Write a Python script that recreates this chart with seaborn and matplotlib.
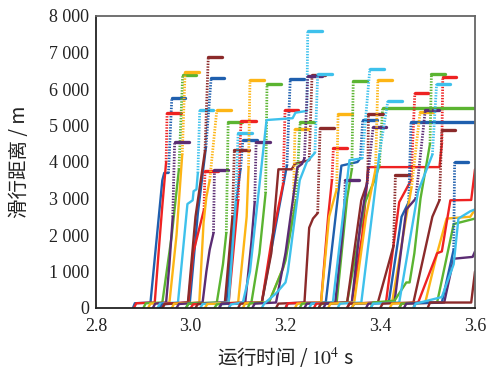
import matplotlib
matplotlib.use("Agg")
import matplotlib.pyplot as plt
import seaborn as sns
import numpy as np

sns.set_theme(style="white")
plt.rcParams['font.family'] = ['Liberation Serif', 'Noto Sans CJK SC', 'DejaVu Sans']
plt.rcParams['mathtext.fontset'] = 'stix'

# ---- data: each trajectory = times (1e4 s) and taxi distances (m) ----
# last point of each series = top of dotted jump; CAP = end time of the top hold (None = runs off chart)
BLUE_T = [[2.878, 2.882, 2.915, 2.940, 2.944, 2.953, 2.960],
          [2.935, 2.940, 2.998, 3.015, 3.032, 3.043],
          [2.990, 2.995, 3.075, 3.092, 3.105, 3.110],
          [3.060, 3.065, 3.150, 3.180, 3.203, 3.210],
          [3.200, 3.205, 3.285, 3.318, 3.352, 3.358, 3.363],
          [3.340, 3.345, 3.418, 3.445, 3.460, 3.465],
          [3.470, 3.475, 3.530, 3.555, 3.557]]
BLUE_D = [[0, 130, 150, 3500, 3700, 3700, 5750],
          [0, 100, 150, 2600, 4400, 6300],
          [0, 120, 150, 2500, 3800, 4600],
          [0, 110, 150, 2300, 3900, 6270],
          [0, 130, 150, 3900, 4000, 4100, 5150],
          [0, 120, 150, 2500, 2900, 5100],
          [0, 140, 150, 1600, 4000]]
BLUE_CAP = [2.988, 3.070, 3.140, 3.238, 3.393, 3.600, 3.586]

RED_T = [[2.880, 2.885, 2.924, 2.935, 2.940, 2.948, 2.950],
         [2.940, 2.945, 2.995, 3.005, 3.028, 3.030],
         [3.000, 3.005, 3.080, 3.100, 3.106],
         [3.080, 3.085, 3.150, 3.170, 3.195, 3.199],
         [3.200, 3.205, 3.275, 3.290, 3.298, 3.301],
         [3.260, 3.265, 3.340, 3.362, 3.375, 3.525, 3.530, 3.532],
         [3.330, 3.335, 3.412, 3.440, 3.465, 3.473],
         [3.440, 3.445, 3.480, 3.520, 3.530, 3.548, 3.592, 3.600]]
RED_D = [[0, 130, 150, 2000, 2800, 4000, 5340],
         [0, 120, 150, 1500, 2700, 3750],
         [0, 100, 150, 2950, 5120],
         [0, 130, 150, 1800, 3400, 5420],
         [0, 130, 150, 2500, 3500, 4380],
         [0, 120, 150, 2000, 3860, 3860, 4500, 6330],
         [0, 120, 150, 2900, 3500, 5880],
         [0, 120, 150, 1500, 1550, 2950, 2960, 3800]]
RED_CAP = [2.980, 3.058, 3.138, 3.227, 3.330, 3.560, 3.500, None]

GREEN_T = [[2.900, 2.905, 2.940, 2.960, 2.975, 2.983],
           [2.990, 2.995, 3.055, 3.068, 3.075, 3.079],
           [3.050, 3.055, 3.128, 3.145, 3.158, 3.161],
           [3.120, 3.125, 3.165, 3.195, 3.200, 3.222, 3.231],
           [3.230, 3.235, 3.308, 3.330, 3.340, 3.343],
           [3.270, 3.275, 3.330, 3.368, 3.388, 3.398, 3.405],
           [3.380, 3.385, 3.430, 3.455, 3.462, 3.472, 3.485, 3.505, 3.508],
           [3.440, 3.445, 3.520, 3.555, 3.570, 3.600]]
GREEN_D = [[0, 130, 150, 2000, 3800, 6380],
           [0, 120, 150, 1200, 2050, 5100],
           [0, 100, 150, 1500, 3150, 6140],
           [0, 130, 150, 1100, 1300, 2950, 5090],
           [0, 120, 150, 3000, 3800, 6220],
           [0, 110, 150, 2900, 3500, 3900, 5470],
           [0, 150, 200, 700, 700, 1500, 3000, 4500, 6410],
           [0, 120, 150, 2300, 2350, 2450]]
GREEN_CAP = [3.011, 3.108, 3.190, 3.260, 3.373, 3.600, 3.536, None]

ORANGE_T = [[2.910, 2.915, 2.955, 2.970, 2.982, 2.988],
            [2.960, 2.965, 3.018, 3.027, 3.033, 3.040, 3.055],
            [3.030, 3.035, 3.100, 3.118, 3.122, 3.125],
            [3.110, 3.115, 3.165, 3.195, 3.216, 3.220],
            [3.220, 3.225, 3.275, 3.292, 3.308, 3.311],
            [3.290, 3.295, 3.345, 3.370, 3.390, 3.395],
            [3.340, 3.345, 3.425, 3.455, 3.466, 3.484],
            [3.420, 3.425, 3.495, 3.520, 3.540, 3.590, 3.600]]
ORANGE_D = [[0, 120, 150, 2000, 4200, 6460],
            [0, 120, 150, 2330, 3040, 3500, 5420],
            [0, 110, 150, 2500, 3860, 6250],
            [0, 130, 150, 1100, 2500, 4900],
            [0, 120, 150, 2500, 3250, 5320],
            [0, 120, 150, 2500, 3800, 6250],
            [0, 120, 150, 2500, 3300, 5360],
            [0, 120, 150, 1500, 2450, 2500, 2700]]
ORANGE_CAP = [3.017, 3.085, 3.155, 3.248, 3.341, 3.425, 3.512, None]

PURPLE_T = [[2.920, 2.925, 2.948, 2.955, 2.962, 2.966],
            [2.970, 2.975, 3.025, 3.033, 3.040, 3.048, 3.050],
            [3.060, 3.065, 3.115, 3.128, 3.135, 3.138],
            [3.130, 3.135, 3.180, 3.200, 3.225, 3.235, 3.240, 3.247],
            [3.240, 3.245, 3.305, 3.320, 3.325, 3.326],
            [3.280, 3.285, 3.340, 3.358, 3.372, 3.385],
            [3.370, 3.375, 3.430, 3.455, 3.475, 3.495],
            [3.450, 3.455, 3.535, 3.555, 3.595, 3.600]]
PURPLE_D = [[0, 120, 150, 1200, 2500, 4550],
            [0, 110, 150, 1000, 1600, 2050, 3780],
            [0, 120, 150, 1800, 2900, 4550],
            [0, 120, 150, 1500, 3850, 3950, 4100, 6360],
            [0, 120, 150, 2000, 2950, 3500],
            [0, 120, 150, 2300, 3400, 4960],
            [0, 120, 150, 2700, 3000, 5420],
            [0, 120, 150, 1350, 1400, 1550]]
PURPLE_CAP = [2.996, 3.078, 3.167, 3.277, 3.356, 3.413, 3.523, None]

CYAN_T = [[2.930, 2.935, 2.973, 2.993, 3.004, 3.006, 3.012, 3.015, 3.019],
          [3.020, 3.025, 3.080, 3.095, 3.100],
          [3.080, 3.085, 3.110, 3.125, 3.160, 3.215, 3.221, 3.245, 3.247],
          [3.150, 3.155, 3.180, 3.200, 3.205, 3.230, 3.245, 3.262, 3.268],
          [3.250, 3.255, 3.300, 3.335, 3.362, 3.378],
          [3.310, 3.315, 3.360, 3.385, 3.398, 3.416],
          [3.380, 3.385, 3.440, 3.480, 3.510, 3.519],
          [3.470, 3.475, 3.530, 3.555, 3.565, 3.590, 3.600]]
CYAN_D = [[0, 120, 150, 2850, 2950, 3200, 3250, 3700, 5420],
          [0, 110, 150, 2900, 4800],
          [0, 100, 150, 1000, 5150, 5200, 5350, 5400, 7600],
          [0, 120, 400, 700, 1000, 3500, 4000, 4250, 6410],
          [0, 120, 150, 4050, 4100, 6550],
          [0, 120, 150, 2800, 4200, 5670],
          [0, 120, 150, 3200, 4200, 6150],
          [0, 120, 300, 1200, 2450, 2650, 2700]]
CYAN_CAP = [3.047, 3.130, 3.277, 3.298, 3.408, 3.445, 3.547, None]

DARKRED_T = [[2.940, 2.945, 2.994, 3.010, 3.030, 3.037],
             [3.010, 3.015, 3.072, 3.088, 3.092],
             [3.100, 3.105, 3.150, 3.170, 3.185, 3.213, 3.220, 3.250, 3.256],
             [3.180, 3.185, 3.240, 3.250, 3.258, 3.268, 3.273],
             [3.270, 3.275, 3.330, 3.360, 3.372, 3.374, 3.375],
             [3.330, 3.335, 3.395, 3.428, 3.432],
             [3.400, 3.405, 3.470, 3.510, 3.525, 3.530],
             [3.500, 3.505, 3.592, 3.600]]
DARKRED_D = [[0, 110, 150, 2500, 4300, 6880],
             [0, 110, 150, 2500, 4330],
             [0, 120, 150, 1500, 3800, 3800, 3950, 4050, 6380],
             [0, 120, 150, 2200, 2450, 2600, 4930],
             [0, 120, 150, 2950, 3400, 3850, 5310],
             [0, 120, 150, 1700, 3640],
             [0, 120, 150, 2500, 2950, 4870],
             [0, 150, 150, 1000]]
DARKRED_CAP = [3.067, 3.122, 3.283, 3.303, 3.405, 3.460, 3.558, None]

X_TICKS = [2.8, 3.0, 3.2, 3.4, 3.6]
Y_TICKS = [0, 1000, 2000, 3000, 4000, 5000, 6000, 7000, 8000]
Y_TICKLABELS = ["0", "1 000", "2 000", "3 000", "4 000", "5 000", "6 000", "7 000", "8 000"]

groups = [
    ("#1f5fae", BLUE_T, BLUE_D, BLUE_CAP),
    ("#ee2222", RED_T, RED_D, RED_CAP),
    ("#5bb431", GREEN_T, GREEN_D, GREEN_CAP),
    ("#fdb515", ORANGE_T, ORANGE_D, ORANGE_CAP),
    ("#5b2c73", PURPLE_T, PURPLE_D, PURPLE_CAP),
    ("#3ec1ec", CYAN_T, CYAN_D, CYAN_CAP),
    ("#8b2a2a", DARKRED_T, DARKRED_D, DARKRED_CAP),
]

fig = plt.figure(figsize=(4.9, 3.79), dpi=100)
ax = fig.add_axes([96/490, 1-308/379, 379/490, 292/379])

# interleave drawing order so colours overlap like the reference
items = []
for color, T, D, C in groups:
    for t, d, c in zip(T, D, C):
        items.append((t[0], color, t, d, c))
items.sort(key=lambda r: r[0])

LW = 1.7
for _, color, t, d, c in items:
    if c is None:
        sns.lineplot(x=t, y=d, color=color, lw=LW, sort=False, estimator=None, ax=ax)
        continue
    sns.lineplot(x=t[:-1], y=d[:-1], color=color, lw=LW, sort=False, estimator=None, ax=ax)
    sns.lineplot(x=t[-2:], y=d[-2:], color=color, lw=2.0, linestyle=(0, (0.5, 0.5)),
                 sort=False, estimator=None, ax=ax)
    sns.lineplot(x=[t[-1], c], y=[d[-1], d[-1]], color=color, lw=2.4, sort=False,
                 estimator=None, ax=ax)

ax.set_xlim(2.8, 3.6)
ax.set_ylim(0, 8000)
ax.set_xticks(X_TICKS)
ax.set_xticklabels([f"{v:.1f}" for v in X_TICKS])
ax.set_yticks(Y_TICKS)
ax.set_yticklabels(Y_TICKLABELS)
ax.tick_params(axis='both', direction='in', labelsize=13, colors='#222222', length=4, width=1.0)
ax.tick_params(axis='x', pad=7, length=3)
ax.tick_params(axis='y', pad=5)
for s in ['left', 'bottom']:
    ax.spines[s].set_color('#222222')
    ax.spines[s].set_linewidth(1.3)
for s in ['top', 'right']:
    ax.spines[s].set_color('#666666')
    ax.spines[s].set_linewidth(1.3)

ax.set_xlabel("运行时间 / $\\mathrm{10^4}$ s", fontsize=14, family=['Noto Sans CJK SC', 'DejaVu Sans'],
              color='#222222')
ax.set_ylabel("滑行距离 / m", fontsize=14, family=['Noto Sans CJK SC', 'DejaVu Sans'], color='#222222')
ax.xaxis.set_label_coords(0.5, -0.13)
ax.yaxis.set_label_coords(-0.175, 0.5)
if ax.get_legend() is not None:
    ax.get_legend().remove()

fig.savefig("out.png", dpi=100)
